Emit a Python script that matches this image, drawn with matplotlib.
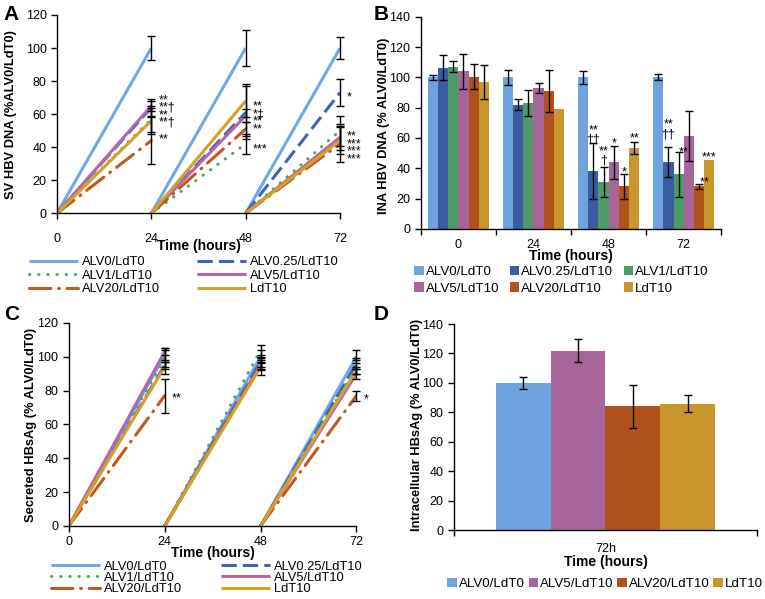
import numpy as np
import matplotlib
matplotlib.use('Agg')
import matplotlib.pyplot as plt

plt.rcParams['font.family'] = ['Liberation Sans', 'DejaVu Sans']

# series names and colours
groups = ['ALV0/LdT0', 'ALV0.25/LdT10', 'ALV1/LdT10', 'ALV5/LdT10', 'ALV20/LdT10', 'LdT10']
line_colors = ['#6FA8E8', '#3E64B3', '#4EA862', '#B565B0', '#C2581E', '#D4A026']
bar_colors = ['#6FA3DF', '#3A5DA0', '#4E9A68', '#A8659A', '#B0521C', '#C8962A']

# Panel A: SV HBV DNA at 24, 48, 72 h
times = [24, 48, 72]
sv_dna = {
    'ALV0/LdT0':     [100, 100, 100],
    'ALV0.25/LdT10': [64, 61, 73],
    'ALV1/LdT10':    [57, 42, 50],
    'ALV5/LdT10':    [65, 59, 46],
    'ALV20/LdT10':   [44, 51, 42],
    'LdT10':         [56, 68, 44],
}
sv_dna_err = {
    'ALV0/LdT0':     [7.5, 11, 6.5],
    'ALV0.25/LdT10': [5, 16, 8],
    'ALV1/LdT10':    [8, 6, 9],
    'ALV5/LdT10':    [3, 4, 8],
    'ALV20/LdT10':   [14, 4, 11],
    'LdT10':         [8, 10, 8],
}
# stacked significance marks: (time, top y, lines)
sv_marks = [(24, 72, ['**', '**\u2020', '**', '**\u2020']), (24, 48, ['**']),
            (48, 68, ['**', '*\u2021', '**', '**']), (48, 42, ['***']),
            (72, 74, ['*']), (72, 50, ['**', '***', '***', '***'])]

# Panel B: INA HBV DNA bars
b_times = ['0', '24', '48', '72']
ina_dna = {
    'ALV0/LdT0':     [100, 100, 100, 100],
    'ALV0.25/LdT10': [106.5, 82, 38, 44],
    'ALV1/LdT10':    [107, 83, 31, 36],
    'ALV5/LdT10':    [104, 93, 44, 61],
    'ALV20/LdT10':   [100.5, 91, 28, 28],
    'LdT10':         [97, 79, 53.5, 45.5],
}
ina_dna_err = {
    'ALV0/LdT0':     [1.5, 5, 4.5, 2],
    'ALV0.25/LdT10': [8, 3.5, 18.5, 10],
    'ALV1/LdT10':    [3.5, 8.5, 10, 15],
    'ALV5/LdT10':    [11.5, 3, 11, 16.5],
    'ALV20/LdT10':   [8, 14, 8, 1.5],
    'LdT10':         [11, 0, 4, 0],
}
# (time index, group index, text, y)
ina_marks = [(2, 1, '**\n\u2020\u2020', 62), (2, 2, '**\n\u2020', 48),
             (2, 3, '*', 56.5), (2, 4, '*', 37.5), (2, 5, '**', 59.5),
             (3, 1, '**\n\u2020\u2020', 65.5), (3, 2, '**', 50.5),
             (3, 4, '**', 30.5), (3, 5, '***', 47)]

# Panel C: secreted HBsAg
sec_hbsag = {
    'ALV0/LdT0':     [101, 100, 100],
    'ALV0.25/LdT10': [95, 97, 96],
    'ALV1/LdT10':    [99, 104, 94],
    'ALV5/LdT10':    [103, 95, 90],
    'ALV20/LdT10':   [77, 95, 77],
    'LdT10':         [94, 94, 92],
}
sec_hbsag_err = {
    'ALV0/LdT0':     [4, 4, 4],
    'ALV0.25/LdT10': [2, 3, 3],
    'ALV1/LdT10':    [5, 3, 4],
    'ALV5/LdT10':    [2, 2, 3],
    'ALV20/LdT10':   [10, 3, 3],
    'LdT10':         [4, 5, 2],
}
sec_marks = [(24, 79, ['**']), (72, 78, ['*'])]

# Panel D: intracellular HBsAg at 72h
d_groups = ['ALV0/LdT0', 'ALV5/LdT10', 'ALV20/LdT10', 'LdT10']
intra_hbsag = [100, 122, 84, 86]
intra_hbsag_err = [4, 8, 14.5, 6]

styles = {
    'ALV0/LdT0':     dict(ls='-'),
    'ALV0.25/LdT10': dict(dashes=(5, 2)),
    'ALV1/LdT10':    dict(dashes=(0.1, 2.9), dash_capstyle='round'),
    'ALV5/LdT10':    dict(ls='-'),
    'ALV20/LdT10':   dict(dashes=(7, 2.5, 0.3, 2.5), dash_capstyle='round'),
    'LdT10':         dict(ls='-'),
}

fig = plt.figure(figsize=(7.65, 5.99), dpi=100)

TICK = 9
LAB = 9.3
MARK = 9


def style_axes(ax):
    for s in ['top', 'right']:
        ax.spines[s].set_visible(False)
    ax.spines['left'].set_linewidth(1.0)
    ax.spines['bottom'].set_linewidth(1.0)
    ax.tick_params(direction='out', labelsize=TICK, length=4, width=1.0)


def line_panel(ax, data, err, marks):
    handles = {}
    for i, g in enumerate(groups):
        for j, t in enumerate(times):
            h, = ax.plot([t - 24, t], [0, data[g][j]], color=line_colors[i], lw=2.2,
                         solid_capstyle='butt', label=g, **styles[g])
            ax.errorbar(t, data[g][j], yerr=err[g][j], fmt='none', ecolor='black',
                        elinewidth=1.0, capsize=3, capthick=1.0, clip_on=False, zorder=5)
        handles[g] = h
    for t, ytop, lines in marks:
        ax.text(t + 1.8, ytop, '\n'.join(lines), fontsize=MARK, va='top', ha='left',
                linespacing=0.5)
    ax.set_xlim(0, 72)
    ax.set_ylim(0, 120)
    ax.set_xticks([0, 24, 48, 72])
    ax.set_yticks(range(0, 121, 20))
    style_axes(ax)
    order = ['ALV0/LdT0', 'ALV1/LdT10', 'ALV20/LdT10', 'ALV0.25/LdT10', 'ALV5/LdT10', 'LdT10']
    return [handles[g] for g in order], order


# ---- Panel A
axA = fig.add_axes([0.0745, 0.644, 0.370, 0.331])
hA, lA = line_panel(axA, sv_dna, sv_dna_err, sv_marks)
axA.tick_params(axis='x', pad=10)
axA.set_xlabel('Time (hours)', fontsize=10, fontweight='bold', labelpad=-4)
axA.legend(hA, lA, loc='upper left', bbox_to_anchor=(0.03, 0.583), bbox_transform=fig.transFigure,
           ncol=2, frameon=False, fontsize=9.3, handlelength=3.8, columnspacing=2.8,
           handletextpad=0.3, labelspacing=0.12, borderpad=0)
fig.text(0.015, 0.809, 'SV HBV DNA (%ALV0/LdT0)', rotation=90, fontsize=LAB, fontweight='bold',
         ha='center', va='center')

# ---- Panel C
axC = fig.add_axes([0.090, 0.122, 0.376, 0.339])
hC, lC = line_panel(axC, sec_hbsag, sec_hbsag_err, sec_marks)
axC.set_xlabel('Time (hours)', fontsize=10, fontweight='bold', labelpad=-2)
axC.legend(hC, lC, loc='upper left', bbox_to_anchor=(0.058, 0.075), bbox_transform=fig.transFigure,
           ncol=2, frameon=False, fontsize=9.3, handlelength=3.8, columnspacing=3.0,
           handletextpad=0.3, labelspacing=-0.05, borderpad=0)
fig.text(0.041, 0.29, 'Secreted HBsAg (% ALV0/LdT0)', rotation=90, fontsize=LAB, fontweight='bold',
         ha='center', va='center')

# ---- Panel B
axB = fig.add_axes([0.550, 0.618, 0.393, 0.354])
bw = 0.136
x0 = np.arange(len(b_times)) + 0.5
bh = []
for i, g in enumerate(groups):
    xs = x0 + (i - 2.5) * bw
    b = axB.bar(xs, ina_dna[g], width=bw, color=bar_colors[i], label=g, zorder=2)
    bh.append(b)
    e = np.array(ina_dna_err[g])
    has = e > 0
    axB.errorbar(xs[has], np.array(ina_dna[g])[has], yerr=e[has], fmt='none', ecolor='black',
                 elinewidth=1.0, capsize=3, capthick=1.0, zorder=4)
for ti, gi, txt, y in ina_marks:
    xx = x0[ti] + (gi - 2.5) * bw
    if ti == 3 and gi in (2, 4):
        xx += 0.07
    axB.text(xx, y, txt, fontsize=MARK, ha='center', va='center', zorder=5, linespacing=0.75)
axB.set_xlim(0, 4)
axB.set_ylim(0, 140)
axB.set_yticks(range(0, 141, 20))
axB.set_xticks([0, 1, 2, 3, 4])
axB.set_xticklabels([])
axB.set_xticks(x0, minor=True)
axB.set_xticklabels(b_times, minor=True)
style_axes(axB)
axB.tick_params(axis='x', which='minor', length=0, labelsize=TICK, pad=7)
axB.set_xlabel('Time (hours)', fontsize=10, fontweight='bold', labelpad=-1)
bord = [0, 3, 1, 4, 2, 5]
axB.legend([bh[k] for k in bord], [groups[k] for k in bord], loc='upper left',
           bbox_to_anchor=(0.533, 0.567), bbox_transform=fig.transFigure, ncol=3, frameon=False,
           fontsize=9.6, handlelength=0.7, handleheight=0.7, handletextpad=0.15, columnspacing=0.8,
           labelspacing=0.3, borderpad=0)
fig.text(0.502, 0.79, 'INA HBV DNA (% ALV0/LdT0)', rotation=90, fontsize=LAB, fontweight='bold',
         ha='center', va='center')

# ---- Panel D
axD = fig.add_axes([0.593, 0.115, 0.397, 0.344])
dw = 0.181
xd = 0.5 + (np.arange(len(d_groups)) - 1.5) * dw
dcols = [bar_colors[groups.index(g)] for g in d_groups]
dh = axD.bar(xd, intra_hbsag, width=dw, color=dcols, zorder=2)
axD.errorbar(xd, intra_hbsag, yerr=intra_hbsag_err, fmt='none', ecolor='black', elinewidth=1.0,
             capsize=3, capthick=1.0, zorder=4)
axD.set_xlim(0, 1)
axD.set_ylim(0, 140)
axD.set_yticks(range(0, 141, 20))
axD.set_xticks([0, 1])
axD.set_xticklabels([])
axD.set_xticks([0.5], minor=True)
axD.set_xticklabels(['72h'], minor=True)
style_axes(axD)
axD.tick_params(axis='x', which='minor', length=0, labelsize=TICK, pad=9)
axD.set_xlabel('Time (hours)', fontsize=10, fontweight='bold', labelpad=0)
axD.legend(list(dh), d_groups, loc='upper left', bbox_to_anchor=(0.576, 0.046), bbox_transform=fig.transFigure,
           ncol=4, frameon=False, fontsize=9.6, handlelength=0.7, handleheight=0.7, handletextpad=0.15,
           columnspacing=0.3, borderpad=0)
fig.text(0.545, 0.29, 'Intracellular HBsAg (% ALV0/LdT0)', rotation=90, fontsize=LAB, fontweight='bold',
         ha='center', va='center')

# panel letters
for x, y, s in [(0.005, 0.975, 'A'), (0.489, 0.975, 'B'), (0.005, 0.475, 'C'), (0.489, 0.475, 'D')]:
    fig.text(x, y, s, fontsize=15, fontweight='bold', ha='left', va='center')

fig.savefig('out.png', dpi=100)
